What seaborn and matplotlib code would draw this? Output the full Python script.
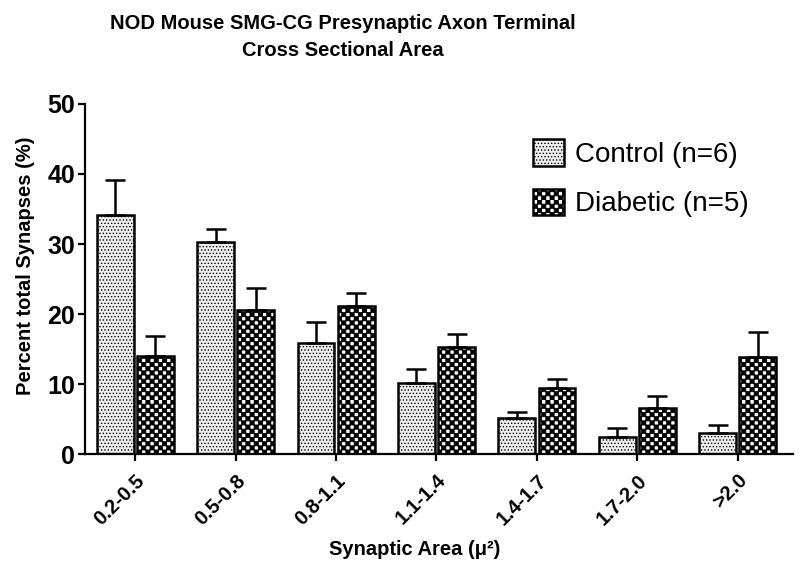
import warnings

import matplotlib
matplotlib.use("Agg")
import matplotlib.hatch as mhatch
import matplotlib.pyplot as plt
import pandas as pd
import seaborn as sns
from matplotlib.patches import Patch
from matplotlib.path import Path

warnings.filterwarnings("ignore")


### Data ###

categories = ["0.2-0.5", "0.5-0.8", "0.8-1.1", "1.1-1.4", "1.4-1.7", "1.7-2.0", ">2.0"]
control_mean = [34.1, 30.3, 15.9, 10.1, 5.1, 2.5, 3.0]
control_sem = [5.0, 1.8, 3.0, 2.0, 0.9, 1.2, 1.1]
diabetic_mean = [14.0, 20.6, 21.2, 15.3, 9.5, 6.6, 13.9]
diabetic_sem = [2.9, 3.1, 1.8, 1.9, 1.2, 1.7, 3.6]
groups = ["Control (n=6)", "Diabetic (n=5)"]


### Checkerboard hatch ###

class CheckerHatch(mhatch.HatchPatternBase):      # 'c' -> filled checkerboard squares

    def __init__(self, hatch, density):
        self.num_cells = hatch.count("c") * density
        self.num_vertices = (self.num_cells ** 2 // 2) * 5

    def set_vertices_and_codes(self, vertices, codes):
        step = 1.0 / self.num_cells
        k = 0
        for i in range(self.num_cells):
            for j in range(self.num_cells):
                if (i + j) % 2:
                    continue
                x0, y0 = i * step, j * step
                vertices[k:k + 5] = [[x0, y0], [x0 + step, y0], [x0 + step, y0 + step],
                                     [x0, y0 + step], [x0, y0]]
                codes[k:k + 5] = [Path.MOVETO, Path.LINETO, Path.LINETO, Path.LINETO, Path.CLOSEPOLY]
                k += 5

mhatch._hatch_types.append(CheckerHatch)


### Plot ###

df = pd.DataFrame({
    "area": categories * 2,
    "group": [groups[0]] * len(categories) + [groups[1]] * len(categories),
    "percent": control_mean + diabetic_mean,
})

sns.set_style("ticks")
plt.rcParams["font.family"] = ["Liberation Sans", "DejaVu Sans"]
plt.rcParams["hatch.linewidth"] = 0.6
plt.rcParams["text.color"] = "black"
plt.rcParams["axes.labelcolor"] = "black"
plt.rcParams["xtick.color"] = "black"
plt.rcParams["ytick.color"] = "black"
plt.rcParams["axes.edgecolor"] = "black"

fig = plt.figure(figsize=(8, 5.62), dpi=100)
ax = fig.add_axes([0.10625, 0.192, 0.885, 0.623])

face_colors = {groups[0]: "#efefef", groups[1]: "white"}
hatches = {groups[0]: ".....", groups[1]: "cccc"}

sns.barplot(
    data=df, x="area", y="percent", hue="group",
    order=categories, hue_order=groups, palette=face_colors,
    width=0.8, gap=0.08, errorbar=None, edgecolor="black", linewidth=1.8,
    legend=False, ax=ax
)

for container, group, sem in zip(ax.containers, groups, [control_sem, diabetic_sem]):
    xs, ys = [], []
    for bar in container:
        bar.set_hatch(hatches[group])
        xs.append(bar.get_x() + bar.get_width() / 2)
        ys.append(bar.get_height())
    ax.errorbar(xs, ys, yerr=[[0] * len(sem), sem], fmt="none",
                ecolor="black", elinewidth=1.8, capsize=7, capthick=1.8, zorder=1)

ax.set_ylim(0, 50)
ax.set_xlim(-0.5, 6.55)
ax.set_yticks([0, 10, 20, 30, 40, 50])
sns.despine(ax=ax)
for side in ["left", "bottom"]:
    ax.spines[side].set_linewidth(1.6)

ax.tick_params(axis="both", direction="out", length=5, width=1.6, color="black")
ax.tick_params(axis="y", labelsize=18, pad=2)
ax.tick_params(axis="x", labelsize=14.5, pad=7)
for lab in ax.get_yticklabels():
    lab.set_fontweight("bold")
for lab in ax.get_xticklabels():
    lab.set_fontweight("bold")
    lab.set_rotation(45)
    lab.set_ha("right")
    lab.set_rotation_mode("anchor")

ax.set_xlabel("Synaptic Area (\u03bc\u00b2)", fontsize=14.5, fontweight="bold")
ax.xaxis.set_label_coords(0.466, -0.245)
ax.set_ylabel("Percent total Synapses (%)", fontsize=14.5, fontweight="bold")
ax.yaxis.set_label_coords(-0.07, 0.537)

fig.text(343 / 800, 1 - 37 / 562, "NOD Mouse SMG-CG Presynaptic Axon Terminal\nCross Sectional Area",
         ha="center", va="center", fontsize=14.5, fontweight="bold", linespacing=1.5)

handles = [Patch(facecolor=face_colors[g], edgecolor="black", linewidth=1.8, hatch=hatches[g]) for g in groups]
ax.legend(handles, groups, loc="upper left", bbox_to_anchor=(533 / 800, 1 - 139 / 562),
          bbox_transform=fig.transFigure, frameon=False, fontsize=20,
          handlelength=1.1, handleheight=1.1, handletextpad=0.4,
          labelspacing=0.75, borderpad=0, borderaxespad=0)

fig.savefig("out.png", dpi=100, facecolor="white")
